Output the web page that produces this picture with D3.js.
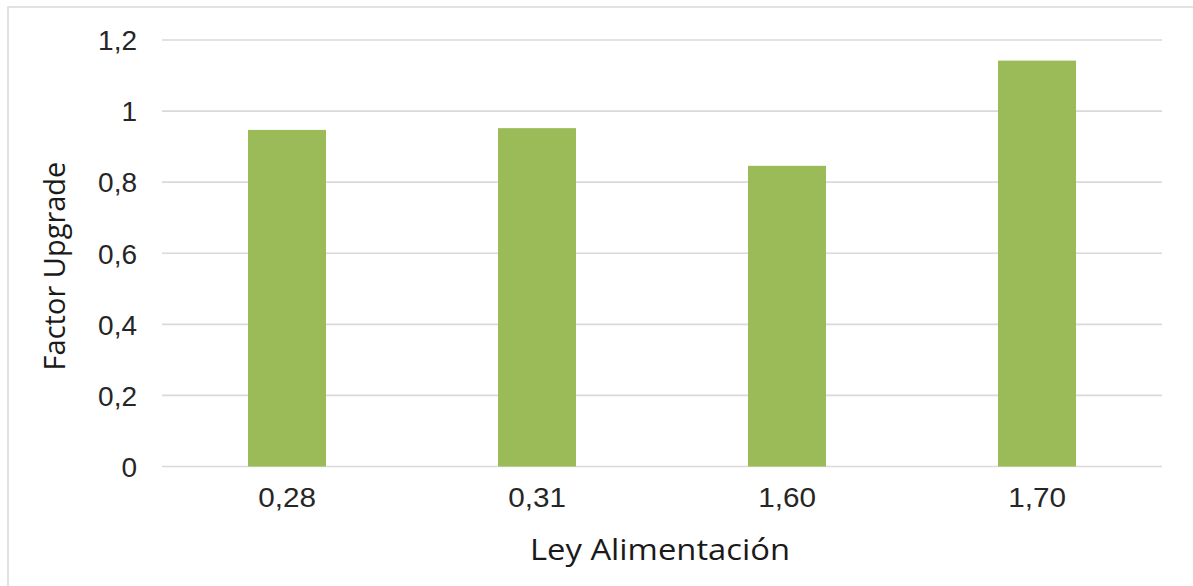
<!DOCTYPE html>
<html>
<head>
<meta charset="utf-8">
<script src="https://cdn.jsdelivr.net/npm/d3@7"></script>
<style>
  html, body { margin: 0; padding: 0; background: #fff; }
  svg { display: block; }
</style>
</head>
<body>
<svg id="chart" width="1193" height="586"></svg>
<script>
// Feed grade categories and their upgrade factors
const categories = ["0,28", "0,31", "1,60", "1,70"];
const upgradeFactor = [0.947, 0.952, 0.846, 1.142];
const yTicks = [0, 0.2, 0.4, 0.6, 0.8, 1, 1.2];
const yTickLabels = ["0", "0,2", "0,4", "0,6", "0,8", "1", "1,2"];
const xTitle = "Ley Alimentación";
const yTitle = "Factor Upgrade";

const svg = d3.select("#chart");
const W = 1193, H = 586;
const plot = { left: 162, right: 1162, top: 40, bottom: 466.5 };

// Light frame around the chart area
svg.append("rect")
  .attr("x", 8).attr("y", 7)
  .attr("width", W + 20).attr("height", H + 20)
  .attr("fill", "#fff")
  .attr("stroke", "#d9d9d9").attr("stroke-width", 1.5);

const x = d3.scaleBand()
  .domain(categories)
  .range([plot.left, plot.right])
  .paddingInner(0.688)
  .paddingOuter(0.344);

const y = d3.scaleLinear()
  .domain([0, 1.2])
  .range([plot.bottom, plot.top]);

// Horizontal gridlines
svg.append("g")
  .selectAll("line")
  .data(yTicks)
  .join("line")
  .attr("x1", plot.left).attr("x2", plot.right)
  .attr("y1", d => y(d)).attr("y2", d => y(d))
  .attr("stroke", "#d9d9d9")
  .attr("stroke-width", 1.6);

// Bars
svg.append("g")
  .selectAll("rect")
  .data(upgradeFactor)
  .join("rect")
  .attr("x", (d, i) => x(categories[i]))
  .attr("width", x.bandwidth())
  .attr("y", d => y(d))
  .attr("height", d => y(0) - y(d))
  .attr("fill", "#9bbb59");

// Y axis labels
const yAxis = d3.axisLeft(y)
  .tickValues(yTicks)
  .tickFormat((d, i) => yTickLabels[i])
  .tickSize(0)
  .tickPadding(0);
const gy = svg.append("g")
  .attr("transform", `translate(${plot.left - 25},0)`)
  .call(yAxis);
gy.select(".domain").remove();
gy.selectAll("text")
  .attr("font-family", "'Liberation Sans', Arial, sans-serif")
  .attr("font-size", 28)
  .attr("fill", "#262626")
  .attr("dy", "0.35em");

// X axis labels
const xAxis = d3.axisBottom(x).tickSize(0).tickPadding(0);
const gx = svg.append("g")
  .attr("transform", `translate(0,${plot.bottom})`)
  .call(xAxis);
gx.select(".domain").remove();
gx.selectAll("text")
  .attr("font-family", "'Liberation Sans', Arial, sans-serif")
  .attr("font-size", 28)
  .attr("fill", "#262626")
  .attr("dy", null)
  .attr("y", 40.5)
  .each(function () {
    const w = this.getComputedTextLength();
    d3.select(this).attr("textLength", w * 1.06).attr("lengthAdjust", "spacingAndGlyphs");
  });

// Axis titles
svg.append("text")
  .attr("x", 660)
  .attr("y", 560)
  .attr("text-anchor", "middle")
  .attr("font-family", "'Open Sans', sans-serif")
  .attr("font-size", 29)
  .attr("fill", "#1a1a1a")
  .attr("textLength", 260)
  .attr("lengthAdjust", "spacingAndGlyphs")
  .text(xTitle);

svg.append("text")
  .attr("transform", `translate(65,266) rotate(-90)`)
  .attr("text-anchor", "middle")
  .attr("font-family", "'Open Sans', sans-serif")
  .attr("font-size", 29)
  .attr("fill", "#1a1a1a")
  .text(yTitle);
</script>
</body>
</html>
